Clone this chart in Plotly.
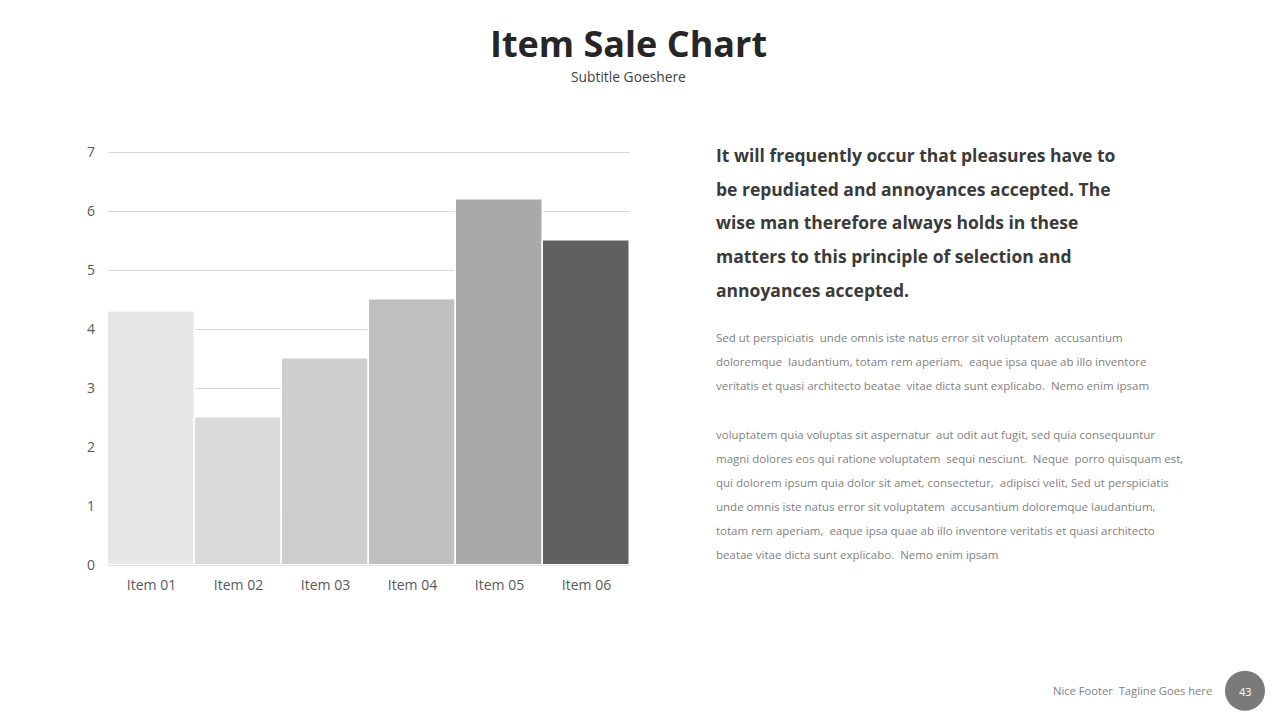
import plotly.graph_objects as go

categories = ["Item 01", "Item 02", "Item 03", "Item 04", "Item 05", "Item 06"]
values = [4.3, 2.5, 3.5, 4.5, 6.2, 5.5]
bar_colors = ["#E7E7E7", "#DADADA", "#CECECE", "#BFBFBF", "#A9A9A9", "#606060"]
y_ticks = [0, 1, 2, 3, 4, 5, 6, 7]

title = "Item Sale Chart"
subtitle = "Subtitle Goeshere"
heading_lines = [
    "It will frequently occur that pleasures have to",
    "be repudiated and annoyances accepted. The",
    "wise man therefore always holds in these",
    "matters to this principle of selection and",
    "annoyances accepted.",
]
body1_lines = [
    "Sed ut perspiciatis  unde omnis iste natus error sit voluptatem  accusantium",
    "doloremque  laudantium, totam rem aperiam,  eaque ipsa quae ab illo inventore",
    "veritatis et quasi architecto beatae  vitae dicta sunt explicabo.  Nemo enim ipsam",
]
body2_lines = [
    "voluptatem quia voluptas sit aspernatur  aut odit aut fugit, sed quia consequuntur",
    "magni dolores eos qui ratione voluptatem  sequi nesciunt.  Neque  porro quisquam est,",
    "qui dolorem ipsum quia dolor sit amet, consectetur,  adipisci velit, Sed ut perspiciatis",
    "unde omnis iste natus error sit voluptatem  accusantium doloremque laudantium,",
    "totam rem aperiam,  eaque ipsa quae ab illo inventore veritatis et quasi architecto",
    "beatae vitae dicta sunt explicabo.  Nemo enim ipsam",
]
footer = "Nice Footer  Tagline Goes here"
page_number = "43"

W, H = 1280, 720
# the page renders the paper area slightly inset vertically; map target pixels accordingly
TOP_OFF, EFF_H = 9.2, 701.0
def py(pix):
    return 1 - (pix - TOP_OFF) / EFF_H
def px(pix):
    return pix / W

fig = go.Figure()
fig.add_trace(go.Bar(
    x=categories, y=values,
    marker=dict(color=bar_colors, line=dict(color="white", width=1.5)),
    width=1.0,
    hoverinfo="x+y",
))

FONT = "Open Sans"
annotations = []
annotations.append(dict(x=0.491, y=py(45), xref="paper", yref="paper", text=f"<b>{title}</b>",
                        showarrow=False, font=dict(family=FONT, size=36, color="#262626"),
                        xanchor="center", yanchor="middle"))
annotations.append(dict(x=0.491, y=py(78), xref="paper", yref="paper", text=subtitle,
                        showarrow=False, font=dict(family=FONT, size=13.8, color="#404040"),
                        xanchor="center", yanchor="middle"))
for i, line in enumerate(heading_lines):
    annotations.append(dict(x=px(714), y=py(156 + i * 33.5), xref="paper", yref="paper",
                            text=f"<b>{line}</b>", showarrow=False,
                            font=dict(family=FONT, size=17.5, color="#3a3a3a"),
                            xanchor="left", yanchor="middle"))
for i, line in enumerate(body1_lines):
    annotations.append(dict(x=px(714), y=py(338 + i * 24), xref="paper", yref="paper",
                            text=line, showarrow=False,
                            font=dict(family=FONT, size=11.5, color="#7f7f7f"),
                            xanchor="left", yanchor="middle"))
for i, line in enumerate(body2_lines):
    annotations.append(dict(x=px(714), y=py(434 + i * 24), xref="paper", yref="paper",
                            text=line, showarrow=False,
                            font=dict(family=FONT, size=11.5, color="#7f7f7f"),
                            xanchor="left", yanchor="middle"))
annotations.append(dict(x=px(1214), y=py(690), xref="paper", yref="paper", text=footer,
                        showarrow=False, font=dict(family=FONT, size=11.2, color="#7f7f7f"),
                        xanchor="right", yanchor="middle"))
annotations.append(dict(x=px(1245), y=py(691), xref="paper", yref="paper", text=page_number,
                        showarrow=False, font=dict(family=FONT, size=11, color="white"),
                        xanchor="center", yanchor="middle"))

shapes = [dict(type="circle", xref="paper", yref="paper",
               x0=px(1225), x1=px(1265), y0=py(710), y1=py(670),
               fillcolor="#7a7a7a", line=dict(width=0))]

fig.update_layout(
    width=W, height=H,
    margin=dict(l=0, r=0, t=0, b=0),
    paper_bgcolor="white", plot_bgcolor="white",
    showlegend=False,
    bargap=0,
    annotations=annotations,
    shapes=shapes,
    xaxis=dict(domain=[px(108), px(630)], showgrid=False, showline=False, ticks="",
               ticklabelstandoff=10,
               tickfont=dict(family=FONT, size=14, color="#595959"), fixedrange=True),
    yaxis=dict(domain=[py(565), py(151.2)], range=[0, 7.03], tickvals=y_ticks,
               showgrid=True, gridcolor="#D9D9D9", gridwidth=1,
               zeroline=True, zerolinecolor="#D9D9D9", zerolinewidth=1,
               showline=False, ticks="", ticklabelstandoff=12,
               tickfont=dict(family=FONT, size=14, color="#595959"), fixedrange=True),
)

fig.write_html(
    "out.html",
    config={"displayModeBar": False},
    post_script=(
        "var g=document.getElementById('{plot_id}');"
        "g.style.position='fixed';g.style.top='0px';g.style.left='0px';"
        "document.body.style.margin='0';document.body.style.overflow='hidden';"
    ),
)
